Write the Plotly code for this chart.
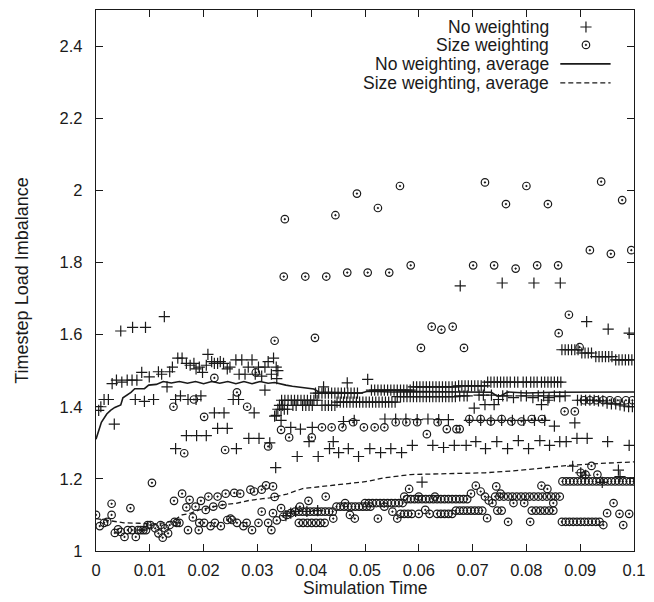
import plotly.graph_objects as go

# ---------------- data ----------------
# No weighting: individual timestep points (+)
nw_pts = [
    # early
    (0.0005, 1.39), (0.0009, 1.40), (0.0015, 1.42), (0.0023, 1.42), (0.0034, 1.352),
    (0.0030, 1.464), (0.0038, 1.474), (0.0046, 1.61), (0.0048, 1.468), (0.0058, 1.474),
    (0.0067, 1.474), (0.0076, 1.474), (0.0068, 1.62), (0.0073, 1.42), (0.0092, 1.62),
    (0.0090, 1.415), (0.0085, 1.495), (0.0099, 1.483), (0.0107, 1.42), (0.0116, 1.497),
    (0.0122, 1.49), (0.0127, 1.65), (0.0132, 1.455), (0.0137, 1.497),
    # upper band 0.014 - 0.034
    (0.0142, 1.51), (0.0152, 1.535), (0.0160, 1.535), (0.0168, 1.52), (0.0175, 1.515),
    (0.0182, 1.52), (0.0186, 1.505), (0.0192, 1.51), (0.0198, 1.495), (0.0205, 1.515),
    (0.0208, 1.545), (0.0215, 1.525), (0.0220, 1.52), (0.0226, 1.52), (0.0231, 1.525),
    (0.0237, 1.52), (0.0244, 1.505), (0.0249, 1.51), (0.0260, 1.53), (0.0266, 1.49),
    (0.0271, 1.53), (0.0277, 1.49), (0.0283, 1.51), (0.0290, 1.53), (0.0296, 1.49),
    (0.0302, 1.51), (0.0308, 1.485), (0.0314, 1.51), (0.0320, 1.525), (0.0326, 1.49),
    (0.0330, 1.535), (0.0335, 1.51), (0.0338, 1.50), (0.0336, 1.478),
    # below the band 0.014 - 0.034
    (0.0148, 1.42), (0.0157, 1.43), (0.0171, 1.42), (0.0186, 1.42), (0.0195, 1.43),
    (0.0255, 1.42), (0.0265, 1.42), (0.0314, 1.446), (0.0220, 1.383), (0.0238, 1.383),
    (0.0294, 1.383), (0.0332, 1.374), (0.0226, 1.34), (0.0244, 1.34), (0.0168, 1.32),
    (0.0187, 1.32), (0.0205, 1.32), (0.0284, 1.312), (0.0303, 1.312), (0.0323, 1.30),
    (0.0148, 1.284), (0.0261, 1.284), (0.0334, 1.231),
    # 0.034 - 0.045
    (0.0335, 1.376), (0.0344, 1.362),
    (0.0338, 1.393), (0.0344, 1.393), (0.0350, 1.393), (0.0356, 1.393),
    (0.0345, 1.418), (0.0351, 1.418), (0.0357, 1.418), (0.0363, 1.418), (0.0369, 1.418),
    (0.0375, 1.418), (0.0381, 1.418), (0.0387, 1.418), (0.0393, 1.418), (0.0399, 1.418),
    (0.0405, 1.418), (0.0411, 1.418),
    (0.0341, 1.404), (0.0347, 1.404), (0.0366, 1.404), (0.0372, 1.404), (0.0384, 1.404),
    (0.0390, 1.404), (0.0396, 1.404), (0.0402, 1.404), (0.0420, 1.404), (0.0426, 1.404),
    (0.0432, 1.404), (0.0438, 1.404), (0.0444, 1.404),
    # row ~1.41, 0.045 - 0.056
    (0.0448, 1.413), (0.0454, 1.413), (0.0460, 1.413), (0.0466, 1.413), (0.0472, 1.413),
    (0.0478, 1.413), (0.0484, 1.413), (0.0490, 1.413), (0.0496, 1.413), (0.0502, 1.413),
    (0.0508, 1.413), (0.0514, 1.413), (0.0520, 1.413), (0.0526, 1.413), (0.0532, 1.413),
    (0.0538, 1.413), (0.0544, 1.413), (0.0550, 1.413), (0.0556, 1.413),
    # row ~1.438, 0.041 - 0.049
    (0.0408, 1.438), (0.0414, 1.438), (0.0420, 1.438), (0.0426, 1.438), (0.0432, 1.438),
    (0.0438, 1.438), (0.0444, 1.438), (0.0450, 1.438), (0.0456, 1.438), (0.0462, 1.438),
    (0.0468, 1.438), (0.0474, 1.438), (0.0480, 1.438), (0.0486, 1.438),
    # row ~1.446, 0.051 - 0.058
    (0.0512, 1.446), (0.0518, 1.446), (0.0524, 1.446), (0.0530, 1.446), (0.0536, 1.446),
    (0.0542, 1.446), (0.0548, 1.446), (0.0554, 1.446), (0.0560, 1.446), (0.0566, 1.446),
    (0.0572, 1.446), (0.0578, 1.446), (0.0584, 1.446),
    # row ~1.455, 0.059 - 0.067
    (0.0590, 1.455), (0.0596, 1.455), (0.0602, 1.455), (0.0608, 1.455), (0.0614, 1.455),
    (0.0620, 1.455), (0.0626, 1.455), (0.0632, 1.455), (0.0638, 1.455), (0.0644, 1.455),
    (0.0650, 1.455), (0.0656, 1.455), (0.0662, 1.455), (0.0668, 1.455),
    # row ~1.46, 0.067 - 0.072
    (0.0674, 1.458), (0.0680, 1.458), (0.0686, 1.458), (0.0692, 1.458), (0.0698, 1.458),
    (0.0704, 1.458), (0.0710, 1.458), (0.0716, 1.458), (0.0722, 1.458),
    # row ~1.468, 0.073 - 0.087
    (0.0728, 1.468), (0.0734, 1.468), (0.0740, 1.468), (0.0746, 1.468), (0.0752, 1.468),
    (0.0758, 1.468), (0.0764, 1.468), (0.0770, 1.468), (0.0778, 1.468), (0.0784, 1.468),
    (0.0794, 1.468), (0.0800, 1.468), (0.0808, 1.468), (0.0814, 1.468), (0.0820, 1.468),
    (0.0828, 1.468), (0.0834, 1.468), (0.0840, 1.468), (0.0846, 1.468), (0.0852, 1.468),
    (0.0858, 1.468), (0.0864, 1.468),
    # row ~1.428, 0.056 - 0.088
    (0.0560, 1.428), (0.0566, 1.428), (0.0572, 1.428), (0.0578, 1.428), (0.0584, 1.428),
    (0.0590, 1.428), (0.0596, 1.428), (0.0602, 1.428), (0.0608, 1.428), (0.0614, 1.428),
    (0.0620, 1.428), (0.0626, 1.428), (0.0632, 1.428), (0.0638, 1.428), (0.0644, 1.428),
    (0.0650, 1.428), (0.0656, 1.428), (0.0662, 1.428), (0.0668, 1.428), (0.0676, 1.43),
    (0.0684, 1.43), (0.0690, 1.43), (0.0712, 1.432), (0.0720, 1.432), (0.0735, 1.432),
    (0.0748, 1.42), (0.0756, 1.43), (0.0764, 1.43), (0.0776, 1.425), (0.0790, 1.43),
    (0.0800, 1.43), (0.0812, 1.425), (0.0822, 1.43), (0.0832, 1.43), (0.0842, 1.425),
    (0.0852, 1.43), (0.0862, 1.428), (0.0872, 1.43),
    # late high rows 0.0865 - 0.1
    (0.0866, 1.558), (0.0872, 1.558), (0.0878, 1.558), (0.0884, 1.558), (0.0890, 1.558),
    (0.0896, 1.558), (0.0903, 1.549), (0.0909, 1.549), (0.0915, 1.549), (0.0921, 1.549),
    (0.0929, 1.539), (0.0935, 1.539), (0.0941, 1.539), (0.0947, 1.539), (0.0953, 1.539),
    (0.0959, 1.539), (0.0966, 1.53), (0.0972, 1.53), (0.0978, 1.53), (0.0984, 1.53),
    (0.0990, 1.53), (0.0996, 1.53),
    # late descending row ~1.41
    (0.0895, 1.418), (0.0902, 1.418), (0.0910, 1.418), (0.0918, 1.418), (0.0926, 1.418),
    (0.0934, 1.416), (0.0942, 1.416), (0.0950, 1.41), (0.0958, 1.408), (0.0966, 1.408),
    (0.0974, 1.405), (0.0982, 1.402), (0.0990, 1.40), (0.0997, 1.40),
    # scattered
    (0.0467, 1.466), (0.0505, 1.476), (0.0423, 1.455),
    (0.0362, 1.343), (0.0380, 1.338), (0.0402, 1.343), (0.0460, 1.359), (0.0480, 1.362),
    (0.0537, 1.366), (0.0557, 1.366), (0.0576, 1.366), (0.0597, 1.364), (0.0617, 1.366),
    (0.0637, 1.364), (0.0655, 1.364), (0.0694, 1.362), (0.0715, 1.362), (0.0734, 1.362),
    (0.0754, 1.362), (0.0774, 1.362), (0.0795, 1.362), (0.0815, 1.362), (0.0834, 1.362),
    (0.0852, 1.346), (0.0890, 1.355),
    (0.0374, 1.262), (0.0413, 1.262), (0.0434, 1.284), (0.0441, 1.303), (0.0451, 1.273),
    (0.0469, 1.284), (0.0488, 1.262), (0.0509, 1.284), (0.0529, 1.273), (0.0548, 1.284),
    (0.0568, 1.273), (0.0588, 1.293), (0.0626, 1.293), (0.0646, 1.287), (0.0666, 1.293),
    (0.0688, 1.293), (0.0706, 1.303), (0.0724, 1.284), (0.0745, 1.303), (0.0765, 1.284),
    (0.0785, 1.306), (0.0804, 1.284), (0.0825, 1.306), (0.0843, 1.293), (0.0862, 1.303),
    (0.0874, 1.303), (0.0894, 1.312), (0.0913, 1.312), (0.0951, 1.303), (0.0991, 1.293),
    (0.0396, 1.303), (0.0606, 1.191),
    (0.0677, 1.735), (0.0755, 1.743), (0.0814, 1.743), (0.0863, 1.743), (0.0912, 1.636),
    (0.0952, 1.615), (0.0991, 1.604),
    (0.0886, 1.235), (0.0901, 1.217), (0.0941, 1.19), (0.0971, 1.224), (0.0974, 1.206),
    (0.0910, 1.21),
    (0.0703, 1.396), (0.0723, 1.406), (0.0740, 1.406), (0.0828, 1.406), (0.0840, 1.418),
    (0.0353, 1.098), (0.0362, 1.105), (0.0371, 1.11), (0.0392, 1.11), (0.0412, 1.112),
]

# Size weighting: individual timestep points (o)
sw_pts = [
    # early band 0 - 0.033
    (0.0000, 1.10), (0.0007, 1.069), (0.0015, 1.078), (0.0021, 1.081), (0.0029, 1.10),
    (0.0029, 1.131), (0.0035, 1.05), (0.0041, 1.06), (0.0046, 1.053), (0.0053, 1.039),
    (0.0059, 1.058), (0.0064, 1.119), (0.0067, 1.058), (0.0074, 1.039), (0.0078, 1.058),
    (0.0083, 1.058), (0.0088, 1.058), (0.0093, 1.058), (0.0096, 1.072), (0.0104, 1.189),
    (0.0101, 1.072), (0.0110, 1.063), (0.0116, 1.049), (0.0120, 1.072), (0.0124, 1.037),
    (0.0128, 1.063), (0.0134, 1.049), (0.0137, 1.072), (0.0146, 1.081), (0.0150, 1.078),
    (0.0145, 1.139), (0.0160, 1.159), (0.0155, 1.078), (0.0168, 1.121), (0.0171, 1.058),
    (0.0174, 1.142), (0.0180, 1.093), (0.0185, 1.123), (0.0192, 1.078), (0.0191, 1.058),
    (0.0195, 1.139), (0.0201, 1.078), (0.0204, 1.114), (0.0209, 1.151), (0.0213, 1.069),
    (0.0218, 1.123), (0.0221, 1.078), (0.0226, 1.151), (0.0232, 1.069), (0.0235, 1.128),
    (0.0241, 1.159), (0.0244, 1.086), (0.0250, 1.09), (0.0253, 1.086), (0.0257, 1.161),
    (0.0262, 1.078), (0.0268, 1.159), (0.0274, 1.069), (0.0280, 1.078), (0.0287, 1.17),
    (0.0290, 1.058), (0.0294, 1.165), (0.0302, 1.078), (0.0308, 1.109), (0.0308, 1.17),
    (0.0316, 1.182), (0.0320, 1.078), (0.0326, 1.058), (0.0329, 1.179),
    # mid band 0.033 - 0.07
    (0.0332, 1.15), (0.0329, 1.105), (0.0336, 1.085), (0.0344, 1.119), (0.0348, 1.095),
    (0.0355, 1.10), (0.0362, 1.105),
    (0.0377, 1.078), (0.0385, 1.078), (0.0393, 1.078), (0.0401, 1.078), (0.0409, 1.078),
    (0.0417, 1.078), (0.0425, 1.078),
    (0.0370, 1.109), (0.0377, 1.109), (0.0384, 1.109), (0.0391, 1.109), (0.0398, 1.109),
    (0.0405, 1.109), (0.0412, 1.109), (0.0419, 1.109), (0.0426, 1.109), (0.0433, 1.109),
    (0.0440, 1.109),
    (0.0379, 1.123), (0.0395, 1.139), (0.0427, 1.151), (0.0441, 1.09),
    (0.0447, 1.123), (0.0454, 1.123), (0.0461, 1.123), (0.0468, 1.123), (0.0475, 1.123),
    (0.0482, 1.123), (0.0489, 1.123), (0.0496, 1.123), (0.0503, 1.123), (0.0510, 1.123),
    (0.0463, 1.133), (0.0472, 1.10), (0.0481, 1.09), (0.0500, 1.133),
    (0.0507, 1.133), (0.0514, 1.133), (0.0521, 1.133), (0.0528, 1.133), (0.0535, 1.133),
    (0.0542, 1.133), (0.0549, 1.133), (0.0556, 1.133), (0.0563, 1.133), (0.0570, 1.133),
    (0.0524, 1.09), (0.0536, 1.123), (0.0551, 1.109), (0.0560, 1.09), (0.0582, 1.172),
    (0.0573, 1.151),
    (0.0578, 1.144), (0.0585, 1.144), (0.0592, 1.144), (0.0599, 1.144), (0.0606, 1.144),
    (0.0613, 1.144), (0.0620, 1.144), (0.0627, 1.144), (0.0634, 1.144), (0.0641, 1.144),
    (0.0648, 1.144), (0.0655, 1.144), (0.0662, 1.144), (0.0669, 1.144), (0.0676, 1.144),
    (0.0683, 1.144), (0.0690, 1.144),
    (0.0566, 1.103), (0.0573, 1.103), (0.0580, 1.103), (0.0587, 1.103), (0.0600, 1.103),
    (0.0620, 1.103), (0.0634, 1.103), (0.0641, 1.103), (0.0648, 1.103), (0.0655, 1.103),
    (0.0662, 1.103), (0.0600, 1.151), (0.0612, 1.114), (0.0630, 1.151),
    (0.0669, 1.112), (0.0676, 1.112), (0.0683, 1.112), (0.0690, 1.112), (0.0697, 1.112),
    (0.0704, 1.112), (0.0711, 1.112), (0.0718, 1.112),
    # late band 0.07 - 0.1
    (0.0706, 1.181), (0.0697, 1.159), (0.0715, 1.165), (0.0723, 1.151), (0.0730, 1.14),
    (0.0737, 1.133), (0.0744, 1.179), (0.0752, 1.159),
    (0.0742, 1.151), (0.0750, 1.151), (0.0758, 1.151), (0.0766, 1.151), (0.0774, 1.151),
    (0.0782, 1.151), (0.0790, 1.151), (0.0798, 1.151), (0.0806, 1.151), (0.0814, 1.151),
    (0.0822, 1.151), (0.0830, 1.151), (0.0838, 1.151), (0.0846, 1.151), (0.0854, 1.151),
    (0.0862, 1.151),
    (0.0776, 1.133), (0.0796, 1.133), (0.0828, 1.181), (0.0839, 1.172), (0.0850, 1.133),
    (0.0746, 1.112), (0.0754, 1.112), (0.0810, 1.112), (0.0818, 1.112), (0.0826, 1.112),
    (0.0834, 1.112), (0.0842, 1.112), (0.0850, 1.112), (0.0727, 1.091), (0.0766, 1.081),
    (0.0807, 1.081),
    (0.0866, 1.081), (0.0873, 1.081), (0.0880, 1.081), (0.0887, 1.081), (0.0894, 1.081),
    (0.0901, 1.081), (0.0908, 1.081), (0.0915, 1.081), (0.0922, 1.081), (0.0929, 1.081),
    (0.0936, 1.081), (0.0943, 1.072), (0.0950, 1.105), (0.0962, 1.133), (0.0973, 1.103),
    (0.0980, 1.072), (0.0991, 1.103),
    (0.0867, 1.193), (0.0874, 1.193), (0.0881, 1.193), (0.0888, 1.193), (0.0895, 1.193),
    (0.0902, 1.193), (0.0909, 1.193), (0.0916, 1.193), (0.0923, 1.193), (0.0930, 1.193),
    (0.0937, 1.193), (0.0944, 1.193), (0.0951, 1.193), (0.0958, 1.193), (0.0965, 1.193),
    (0.0972, 1.193), (0.0979, 1.193), (0.0986, 1.193), (0.0993, 1.193), (0.0999, 1.193),
    (0.0901, 1.217), (0.0910, 1.212), (0.0921, 1.236), (0.0932, 1.212),
    # middle rows ~1.3 - 1.45
    (0.0144, 1.40), (0.0164, 1.271), (0.0182, 1.42), (0.0201, 1.372), (0.0220, 1.48),
    (0.0240, 1.28), (0.0262, 1.44), (0.0281, 1.40), (0.0297, 1.495), (0.0320, 1.29),
    (0.0344, 1.336), (0.0359, 1.315), (0.0401, 1.315),
    (0.0420, 1.343), (0.0438, 1.343), (0.0458, 1.343), (0.0478, 1.357), (0.0498, 1.343),
    (0.0518, 1.343), (0.0536, 1.343), (0.0557, 1.357), (0.0577, 1.357), (0.0597, 1.357),
    (0.0615, 1.324), (0.0635, 1.357), (0.0652, 1.338), (0.0670, 1.338), (0.0676, 1.338),
    (0.0694, 1.366), (0.0715, 1.366), (0.0734, 1.359), (0.0754, 1.366), (0.0772, 1.359),
    (0.0791, 1.359), (0.0810, 1.366), (0.0829, 1.366),
    (0.0871, 1.387), (0.0890, 1.387),
    (0.0907, 1.418), (0.0918, 1.418), (0.0930, 1.418), (0.0943, 1.418), (0.0955, 1.418),
    (0.0970, 1.418), (0.0985, 1.418), (0.0997, 1.418),
    # high points
    (0.0332, 1.583), (0.0407, 1.591),
    (0.0351, 1.92), (0.0349, 1.761), (0.0389, 1.761), (0.0428, 1.761), (0.0445, 1.931),
    (0.0467, 1.772), (0.0485, 1.991), (0.0505, 1.772), (0.0524, 1.951), (0.0545, 1.772),
    (0.0565, 2.012), (0.0585, 1.792), (0.0604, 1.563), (0.0624, 1.622), (0.0642, 1.614),
    (0.0663, 1.622), (0.0684, 1.563), (0.0701, 1.792), (0.0723, 2.022), (0.0740, 1.792),
    (0.0762, 1.962), (0.0780, 1.783), (0.0800, 2.012), (0.0820, 1.792), (0.0840, 1.962),
    (0.0859, 1.792), (0.0860, 1.604), (0.0879, 1.655), (0.0899, 1.565), (0.0918, 1.834),
    (0.0939, 2.024), (0.0957, 1.824), (0.0978, 1.973), (0.0995, 1.834),
]

# Running averages
nwa_x = [0, 0.0005, 0.001, 0.002, 0.0027, 0.0035, 0.0046, 0.005, 0.0055, 0.0065,
         0.0072, 0.009, 0.0098, 0.0112, 0.0125, 0.014, 0.0155, 0.017, 0.0185, 0.02,
         0.0215, 0.023, 0.0245, 0.026, 0.0275, 0.029, 0.0305, 0.032, 0.0332, 0.0345,
         0.0353, 0.0365, 0.039, 0.0405, 0.0414, 0.045, 0.0493, 0.0505, 0.055, 0.06,
         0.065, 0.07, 0.0735, 0.0745, 0.0752, 0.0765, 0.08, 0.085, 0.09, 0.095, 0.1]
nwa_y = [1.31, 1.335, 1.357, 1.38, 1.39, 1.398, 1.405, 1.425, 1.43, 1.44,
         1.45, 1.45, 1.46, 1.462, 1.47, 1.466, 1.47, 1.465, 1.47, 1.464,
         1.47, 1.465, 1.47, 1.464, 1.47, 1.464, 1.47, 1.465, 1.467, 1.462,
         1.46, 1.457, 1.453, 1.449, 1.441, 1.44, 1.438, 1.443, 1.441, 1.442,
         1.441, 1.441, 1.44, 1.43, 1.43, 1.441, 1.438, 1.44, 1.441, 1.441, 1.441]

swa_x = [0, 0.002, 0.004, 0.0052, 0.008, 0.0105, 0.0125, 0.0143, 0.016, 0.0176,
         0.0192, 0.021, 0.0235, 0.026, 0.0284, 0.031, 0.0323, 0.0335, 0.0355, 0.0384,
         0.0426, 0.0469, 0.0505, 0.0536, 0.0585, 0.0663, 0.0724, 0.0775, 0.084, 0.0877,
         0.0938, 0.1]
swa_y = [1.09, 1.085, 1.08, 1.078, 1.077, 1.075, 1.078, 1.083, 1.10, 1.105,
         1.114, 1.12, 1.128, 1.132, 1.14, 1.145, 1.147, 1.151, 1.158, 1.173,
         1.179, 1.187, 1.193, 1.203, 1.212, 1.214, 1.217, 1.222, 1.231, 1.237,
         1.243, 1.247]

legend_labels = ["No weighting", "Size weighting",
                 "No weighting, average", "Size weighting, average"]
x_title = "Simulation Time"
y_title = "Timestep Load Imbalance"
x_ticks = [0, 0.01, 0.02, 0.03, 0.04, 0.05, 0.06, 0.07, 0.08, 0.09, 0.1]
y_ticks = [1, 1.2, 1.4, 1.6, 1.8, 2, 2.2, 2.4]

# ---------------- figure ----------------
INK = "#1a1a1a"
FONT = "Liberation Sans, Arial, Helvetica, sans-serif"
PLUS = dict(symbol="cross-thin", size=8, color=INK, line=dict(width=1.2, color=INK))
CIRC = dict(symbol="circle-open-dot", size=7.5, color=INK, line=dict(width=1.2, color=INK))
SOLID = dict(color=INK, width=1.6)
DASH = dict(color=INK, width=1.3, dash="5px,3px")

nw_x, nw_y = zip(*nw_pts)
sw_x, sw_y = zip(*sw_pts)

fig = go.Figure()
fig.add_trace(go.Scatter(x=sw_x, y=sw_y, mode="markers", name=legend_labels[1], marker=CIRC))
fig.add_trace(go.Scatter(x=nw_x, y=nw_y, mode="markers", name=legend_labels[0], marker=PLUS))
fig.add_trace(go.Scatter(x=nwa_x, y=nwa_y, mode="lines", name=legend_labels[2], line=SOLID))
fig.add_trace(go.Scatter(x=swa_x, y=swa_y, mode="lines", name=legend_labels[3], line=DASH))

# gnuplot-style key: text right-aligned, sample to its right (overlay axis = plot area fractions)
leg_text_x = 0.843
leg_rows = [0.9686, 0.9354, 0.9004, 0.8653]
leg_sym_x = 0.9107
leg_line_x = [0.863, 0.9565]
for lab, ry in zip(legend_labels, leg_rows):
    fig.add_annotation(x=leg_text_x, y=ry, xref="paper", yref="paper", text=lab,
                       showarrow=False, xanchor="right", yanchor="middle", borderpad=0,
                       font=dict(family=FONT, size=17.5, color=INK))
fig.add_trace(go.Scatter(x=[leg_sym_x], y=[leg_rows[0]], xaxis="x2", yaxis="y2",
                         mode="markers", showlegend=False, hoverinfo="skip", marker=PLUS))
fig.add_trace(go.Scatter(x=[leg_sym_x], y=[leg_rows[1]], xaxis="x2", yaxis="y2",
                         mode="markers", showlegend=False, hoverinfo="skip", marker=CIRC))
fig.add_trace(go.Scatter(x=leg_line_x, y=[leg_rows[2]] * 2, xaxis="x2", yaxis="y2",
                         mode="lines", showlegend=False, hoverinfo="skip", line=SOLID))
fig.add_trace(go.Scatter(x=leg_line_x, y=[leg_rows[3]] * 2, xaxis="x2", yaxis="y2",
                         mode="lines", showlegend=False, hoverinfo="skip", line=DASH))

# axis titles
fig.add_annotation(x=0.5, y=-0.068, xref="paper", yref="paper", text=x_title,
                   showarrow=False, xanchor="center", yanchor="middle", borderpad=0,
                   font=dict(family=FONT, size=17.5, color=INK))
fig.add_annotation(x=-0.139, y=0.5, xref="paper", yref="paper", text=y_title,
                   showarrow=False, xanchor="center", yanchor="middle", textangle=-90,
                   borderpad=0, font=dict(family=FONT, size=18, color=INK))

axis_common = dict(showgrid=False, zeroline=False, showline=True, linecolor=INK,
                   linewidth=1.3, mirror="ticks", ticks="inside", ticklen=7,
                   tickwidth=1.1, tickcolor=INK,
                   tickfont=dict(family=FONT, size=16.5, color=INK))

fig.update_layout(
    width=654, height=602,
    margin=dict(l=96, r=14, t=9, b=51),
    paper_bgcolor="white", plot_bgcolor="white",
    showlegend=False,
    font=dict(family=FONT, color=INK),
    xaxis=dict(range=[0, 0.1], tickvals=x_ticks,
               ticktext=[f"{v:g}" for v in x_ticks],
               ticklabelstandoff=4, **axis_common),
    yaxis=dict(range=[1, 2.5], tickvals=y_ticks,
               ticktext=[f"{v:g}" for v in y_ticks],
               ticklabelstandoff=9, **axis_common),
    xaxis2=dict(range=[0, 1], overlaying="x", visible=False, fixedrange=True),
    yaxis2=dict(range=[0, 1], overlaying="y", visible=False, fixedrange=True),
)

# remove the page's default body margin so the figure sits at the window origin,
# and hide the interactive toolbar
fig.write_html("out.html", config={"displayModeBar": False},
               post_script="document.body.style.margin='0px';")
